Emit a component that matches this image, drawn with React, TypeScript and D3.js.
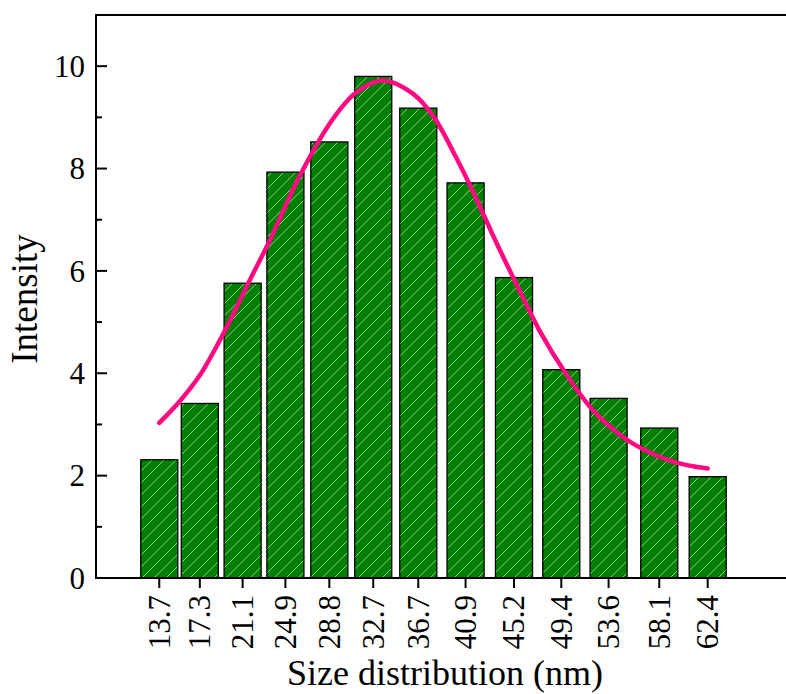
import React from "react";
import * as d3 from "d3";

// Particle size bins (nm) and their intensity
const sizeBins = [13.7, 17.3, 21.1, 24.9, 28.8, 32.7, 36.7, 40.9, 45.2, 49.4, 53.6, 58.1, 62.4];
const intensity = [2.31, 3.41, 5.76, 7.93, 8.52, 9.80, 9.18, 7.72, 5.87, 4.07, 3.51, 2.93, 1.98];

// Fitted distribution curve, sampled points
const fitX = [13.7, 15.5, 17.3, 19.45, 21.6, 23.3, 24.7, 25.9, 28.9, 31.1, 33.5, 36.3, 38.1, 40.1, 41.6, 43.7, 45.6, 47.5, 49.9, 52.0, 53.5, 55.8, 59.4, 62.4];
const fitY = [3.03, 3.45, 3.96, 4.80, 5.76, 6.50, 7.17, 7.74, 8.90, 9.47, 9.72, 9.45, 9.0, 8.2, 7.53, 6.52, 5.66, 4.82, 3.96, 3.33, 3.0, 2.62, 2.27, 2.14];

const yMajorTicks = [0, 2, 4, 6, 8, 10];
const yMinorTicks = [1, 3, 5, 7, 9];

const W = 786;
const H = 694;
const left = 96;
const top = 15;
const bottom = 578;
const BAR_WIDTH = 3.29; // nm

const FONT = "'Liberation Serif', 'Times New Roman', serif";

export default function App() {
  // the x axis runs on past the right edge of the canvas
  const x = d3.scaleLinear().domain([8.08, 69.71]).range([left, 790]);
  const y = d3.scaleLinear().domain([0, 11]).range([bottom, top]);

  const fitPts: [number, number][] = fitX.map((v, i) => [v, fitY[i]]);
  const line = d3
    .line<[number, number]>()
    .x((d) => x(d[0]))
    .y((d) => y(d[1]))
    .curve(d3.curveCatmullRom.alpha(0.5));

  const bw = x(BAR_WIDTH) - x(0);

  return (
    <div style={{ position: "fixed", left: 0, top: 0, width: W, height: H, overflow: "hidden", background: "#fff" }}>
      <svg width={W} height={H} style={{ display: "block" }}>
        <defs>
          <pattern id="hatch" patternUnits="userSpaceOnUse" width={12} height={12}>
            <rect width={12} height={12} fill="#008000" />
            <path d="M0,12 L12,0 M-2,2 L2,-2 M10,14 L14,10" stroke="#9fd39f" strokeWidth={0.9} />
          </pattern>
        </defs>

        {/* bars */}
        {sizeBins.map((s, i) => (
          <rect
            key={s}
            x={x(s) - bw / 2}
            y={y(intensity[i])}
            width={bw}
            height={y(0) - y(intensity[i])}
            fill="url(#hatch)"
            stroke="#000"
            strokeWidth={1.3}
          />
        ))}

        {/* fitted curve */}
        <path
          d={line(fitPts) || ""}
          fill="none"
          stroke="#ff0a80"
          strokeWidth={4.5}
          strokeLinecap="round"
          strokeLinejoin="round"
        />

        {/* top, left and bottom borders */}
        <path
          d={`M${W},${top}H${left}V${bottom}H${W}`}
          fill="none"
          stroke="#000"
          strokeWidth={2}
        />

        {/* y ticks (inward) */}
        {yMajorTicks.map((t) => (
          <g key={"ym" + t}>
            <line x1={left} x2={left + 11} y1={y(t)} y2={y(t)} stroke="#000" strokeWidth={2} />
            <text x={85} y={y(t)} dy="0.35em" textAnchor="end" fontFamily={FONT} fontSize={31} fill="#000">
              {t}
            </text>
          </g>
        ))}
        {yMinorTicks.map((t) => (
          <line key={"yn" + t} x1={left} x2={left + 6} y1={y(t)} y2={y(t)} stroke="#000" strokeWidth={2} />
        ))}

        {/* x ticks (outward) and rotated labels */}
        {sizeBins.map((s) => (
          <g key={"xt" + s}>
            <line x1={x(s)} x2={x(s)} y1={bottom} y2={bottom + 10} stroke="#000" strokeWidth={2} />
            <text
              transform={`translate(${x(s) + 10.5},${595}) rotate(-90)`}
              textAnchor="end"
              fontFamily={FONT}
              fontSize={31}
              fill="#000"
            >
              {s.toFixed(1)}
            </text>
          </g>
        ))}

        {/* axis titles */}
        <text x={445} y={685} textAnchor="middle" fontFamily={FONT} fontSize={36} fill="#000">
          Size distribution (nm)
        </text>
        <text
          transform={`translate(37,${299}) rotate(-90)`}
          textAnchor="middle"
          fontFamily={FONT}
          fontSize={37}
          fill="#000"
        >
          Intensity
        </text>
      </svg>
    </div>
  );
}
